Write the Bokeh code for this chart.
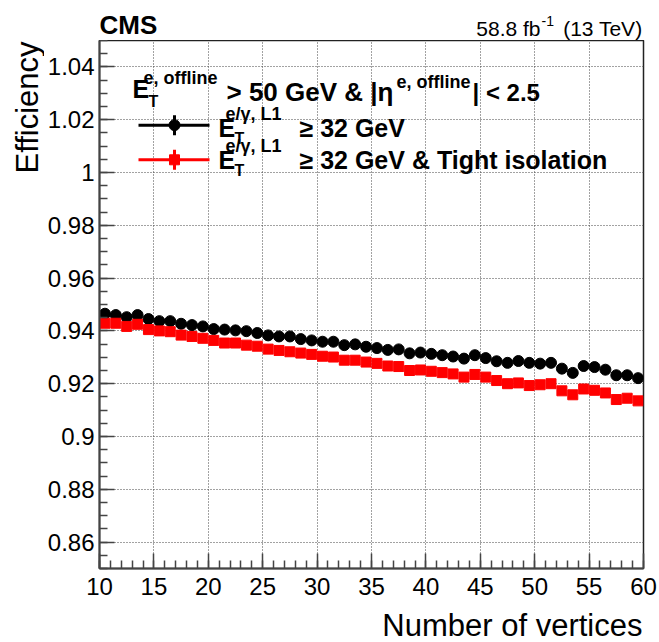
import math
from bokeh.plotting import figure
from bokeh.layouts import column, row
from bokeh.models import Label, SingleIntervalTicker, CustomJSTickFormatter, Range1d
from bokeh.embed import file_html
from bokeh.resources import INLINE

# ---------------- data ----------------
nvtx = [10.5, 11.5, 12.5, 13.5, 14.5, 15.5, 16.5, 17.5, 18.5, 19.5,
        20.5, 21.5, 22.5, 23.5, 24.5, 25.5, 26.5, 27.5, 28.5, 29.5,
        30.5, 31.5, 32.5, 33.5, 34.5, 35.5, 36.5, 37.5, 38.5, 39.5,
        40.5, 41.5, 42.5, 43.5, 44.5, 45.5, 46.5, 47.5, 48.5, 49.5,
        50.5, 51.5, 52.5, 53.5, 54.5, 55.5, 56.5, 57.5, 58.5, 59.5]
eff_l1 = [0.9465, 0.9460, 0.9452, 0.9460, 0.9445, 0.9437, 0.9437, 0.9427, 0.9422, 0.9417,
          0.9407, 0.9405, 0.9402, 0.9399, 0.9392, 0.9383, 0.9379, 0.9379, 0.9369, 0.9364,
          0.9359, 0.9359, 0.9346, 0.9349, 0.9340, 0.9335, 0.9328, 0.9330, 0.9315, 0.9318,
          0.9313, 0.9308, 0.9303, 0.9295, 0.9308, 0.9297, 0.9285, 0.9279, 0.9286, 0.9279,
          0.9276, 0.9279, 0.9257, 0.9241, 0.9267, 0.9263, 0.9253, 0.9232, 0.9232, 0.9221]
eff_l1_iso = [0.9429, 0.9429, 0.9417, 0.9425, 0.9405, 0.9400, 0.9397, 0.9384, 0.9379, 0.9372,
              0.9364, 0.9354, 0.9354, 0.9346, 0.9342, 0.9331, 0.9326, 0.9321, 0.9316, 0.9311,
              0.9304, 0.9301, 0.9289, 0.9289, 0.9282, 0.9277, 0.9267, 0.9265, 0.9250, 0.9252,
              0.9247, 0.9242, 0.9237, 0.9225, 0.9235, 0.9225, 0.9212, 0.9200, 0.9203, 0.9193,
              0.9196, 0.9200, 0.9173, 0.9158, 0.9180, 0.9175, 0.9165, 0.9140, 0.9145, 0.9135]

x_title = "Number of vertices"
y_title = "Efficiency"

# ---------------- layout constants (pixels of the whole page) ----------------
W, H = 659, 642
FL, FR, FT, FB = 99, 643, 40, 568      # plot frame
LEFT_W = 44                             # strip holding the y title
FOOT_Y = 606                            # top of the strip holding the x title
X0, X1, Y0, Y1 = 10, 60, 0.85, 1.05
FONT = "Liberation Sans"


def strip(w, h):
    f = figure(width=w, height=h, x_range=Range1d(0, w), y_range=Range1d(h, 0),
               output_backend="svg", toolbar_location=None, min_border=0,
               x_axis_location=None, y_axis_location=None)
    f.outline_line_color = None
    f.xgrid.visible = False
    f.ygrid.visible = False
    f.background_fill_color = "white"
    f.border_fill_color = "white"
    return f


def label(fig, x, y, text, size, bold=False, align="left", angle=0.0):
    fig.add_layout(Label(x=x, y=y, text=text, text_font=FONT,
                         text_font_size=f"{size}px",
                         text_font_style="bold" if bold else "normal",
                         text_align=align, text_baseline="middle",
                         text_color="black", angle=angle))


# ---------------- header strip: CMS / luminosity ----------------
hdr = strip(W, FT)
label(hdr, 99, 24, "CMS", 26, bold=True)
label(hdr, 642, 27.5, "(13 TeV)", 21, align="right")
label(hdr, 541, 20, "-1", 14)
label(hdr, 540, 27.5, "58.8 fb", 21, align="right")

# ---------------- left strip: y title ----------------
lft = strip(LEFT_W, FOOT_Y - FT)
label(lft, 27, 1, y_title, 31, align="right", angle=math.pi / 2)

# ---------------- footer strip: x title ----------------
ftr = strip(W, H - FOOT_Y)
label(ftr, 642, 18.5, x_title, 31, align="right")

# ---------------- main plot ----------------
p = figure(width=W - LEFT_W, height=FOOT_Y - FT,
           x_range=Range1d(X0, X1), y_range=Range1d(Y0, Y1),
           output_backend="svg", toolbar_location=None,
           min_border_left=FL - LEFT_W, min_border_right=W - FR,
           min_border_top=0, min_border_bottom=FOOT_Y - FB)
p.background_fill_color = "white"
p.border_fill_color = "white"
p.outline_line_color = "#222222"
p.outline_line_width = 1.5

p.xaxis.ticker = SingleIntervalTicker(interval=5, num_minor_ticks=5)
p.yaxis.ticker = SingleIntervalTicker(interval=0.02, num_minor_ticks=4)
p.xgrid.ticker = SingleIntervalTicker(interval=5)
p.ygrid.ticker = SingleIntervalTicker(interval=0.02)
p.grid.grid_line_color = "#444444"
p.grid.grid_line_dash = "1 2"
p.grid.grid_line_width = 1

p.yaxis.formatter = CustomJSTickFormatter(code="return String(Math.round(tick*1000)/1000);")
for ax in (p.xaxis, p.yaxis):
    ax.major_tick_in = 15
    ax.major_tick_out = 0
    ax.minor_tick_in = 8
    ax.minor_tick_out = 0
    ax.axis_line_color = "#444444"
    ax.axis_line_width = 2
    ax.major_tick_line_color = "#444444"
    ax.minor_tick_line_color = "#444444"
    ax.major_tick_line_width = 1.5
    ax.minor_tick_line_width = 1.5
    ax.major_label_text_font = FONT
    ax.major_label_text_font_size = "24px"
    ax.major_label_text_color = "black"
p.yaxis.major_label_standoff = 5
p.xaxis.major_label_standoff = 9

p.scatter(nvtx, eff_l1, marker="circle", size=11, color="black")
p.scatter(nvtx, eff_l1_iso, marker="square", size=10, color="red")


def dx(px):
    return X0 + (px - FL) * (X1 - X0) / (FR - FL)


def dy(py):
    return Y0 + (FB - py) * (Y1 - Y0) / (FB - FT)


def plab(px, py, text, size, bold=True):
    label(p, dx(px), dy(py), text, size, bold=bold)


# legend header
plab(132, 88.5, "E", 25)
plab(148, 101, "T", 16)
plab(143, 77, "e, offline", 18)
plab(226, 91.5, "> 50 GeV & |\u03b7", 26)
plab(396, 81, "e, offline", 18)
plab(472, 91.5, "| < 2.5", 24)

# legend entries
for c, tail in ((127, "\u2265 32 GeV"), (159, "\u2265 32 GeV & Tight isolation")):
    plab(218, c, "E", 25)
    plab(234, c + 10.5, "T", 16)
    plab(225, c - 14, "e/\u03b3, L1", 18)
    plab(299, c, tail, 25)

# legend samples
for py, col, mk, sz in ((124.7, "black", "circle", 11), (159.3, "red", "square", 10)):
    p.segment(x0=[dx(138)], y0=[dy(py)], x1=[dx(209)], y1=[dy(py)], line_color=col, line_width=3)
    p.segment(x0=[dx(174)], y0=[dy(py - 10)], x1=[dx(174)], y1=[dy(py + 10)], line_color=col, line_width=3)
    p.scatter([dx(174)], [dy(py)], marker=mk, size=sz, color=col)

layout = column(hdr, row(lft, p, spacing=0), ftr, spacing=0)
open("out.html", "w").write(file_html(layout, INLINE))
